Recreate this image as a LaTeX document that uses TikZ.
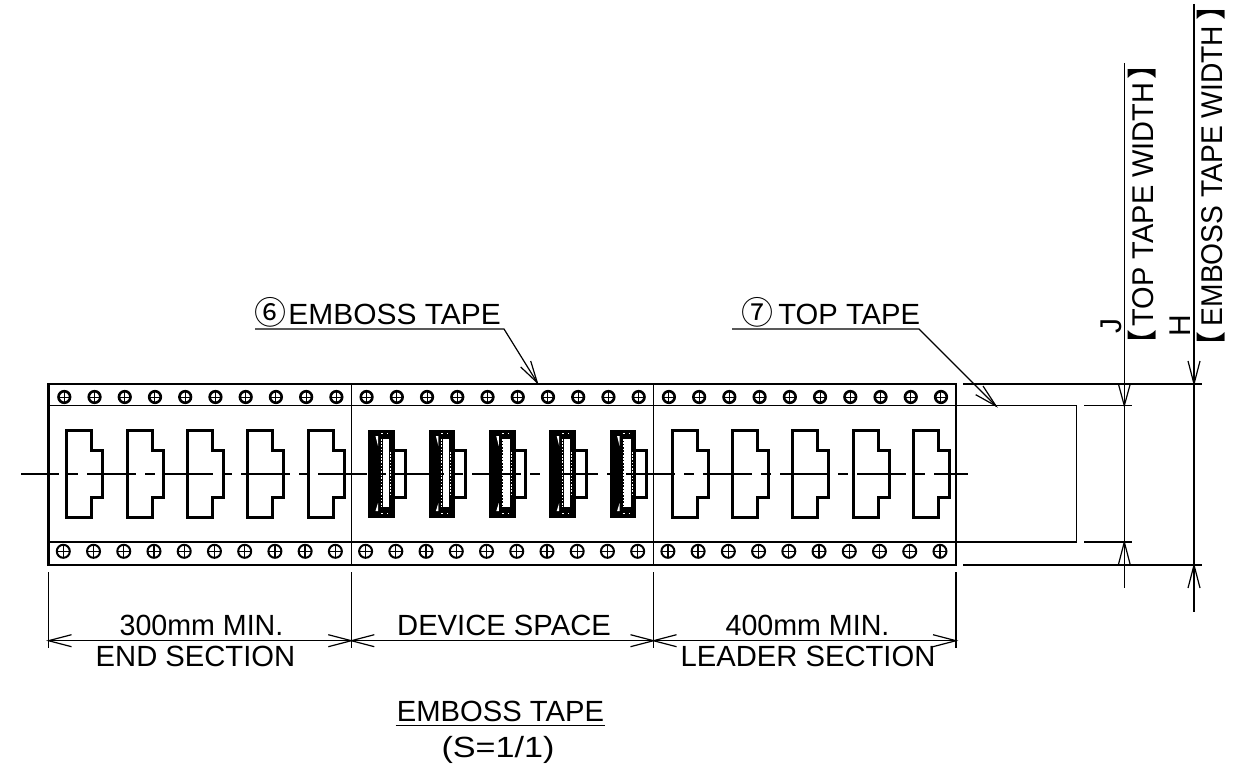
\documentclass[tikz,border=0pt]{standalone}
\usepackage{fontspec}
\setmainfont{Liberation Sans}
\newfontfamily\cjk{Noto Sans CJK JP}
\usetikzlibrary{calc}
\tikzset{
  thinline/.style={line width=0.6pt,black},
  thickline/.style={line width=1.5pt,black,line join=miter},
  holeline/.style={line width=1.3pt,black},
  crossline/.style={line width=0.5pt,black},
  lbl/.style={inner sep=0pt,anchor=base,font=\fontsize{14.6}{16}\selectfont},
  lblr/.style={inner sep=0pt,anchor=base,rotate=90,font=\fontsize{15}{16}\selectfont},
  centerline/.style={line width=0.6pt,black,dash pattern=on 24.5pt off 4.5pt on 5pt off 4.5pt,dash phase=5.5pt}
}
\newcommand{\pocketpath}[1]{(#1,430.7) -- (#1+25,430.7) -- (#1+25,450.3) -- (#1+36,450.3) -- (#1+36,497) -- (#1+25,497) -- (#1+25,517) -- (#1,517) -- cycle}
\newcommand{\opentip}[4]{% tip x,y ; dx,dy to base
  \draw[thinline] (#1-#3,#2+#4) -- (#1,#2) -- (#1+#3,#2+#4);}
\begin{document}
\begin{tikzpicture}[x=0.5pt,y=-0.5pt]
\useasboundingbox (0,0) rectangle (1240,764);
% holes
\foreach \i in {0,...,29}{
  \pgfmathsetmacro{\hx}{64.3+30.23*\i}
  \draw[holeline] (\hx,397) circle[radius=5.8];
  \draw[crossline] (\hx-5,397) -- (\hx+5,397) (\hx,392) -- (\hx,402);
  \pgfmathsetmacro{\hy}{63.3+30.23*\i}
  \draw[line width=1pt] (\hy,551.3) circle[radius=6.5];
  \draw[line width=0.65pt] (\hy-6,551.3) -- (\hy+6,551.3) (\hy,545.3) -- (\hy,557.3);
}
% empty pockets
\foreach \i in {0,...,4}{
  \pgfmathsetmacro{\pa}{66.7+60.4*\i}
  \draw[thickline] \pocketpath{\pa};
  \pgfmathsetmacro{\pc}{672+60.4*\i}
  \draw[thickline] \pocketpath{\pc};
}
% filled pockets
\foreach \i in {0,...,4}{
  \pgfmathsetmacro{\pb}{369+60.4*\i}
  \begin{scope}[shift={(\pb,0)}]
    \draw[thickline] (25,450.3) -- (36,450.3) -- (36,497) -- (25,497);
    \fill[black] (-0.8,429.8) rectangle (25.8,517.8);
    \fill[white] (13.5,439) rectangle (20,507);
    \fill[white] (6.5,436) -- (9,436) -- (9,446) -- cycle;
    \fill[white] (9,503) -- (9,511) -- (6.5,511) -- cycle;
    \draw[white,line width=0.5pt,dash pattern=on 0.8pt off 0.8pt] (12.5,439) -- (12.5,507);
    \draw[white,line width=0.5pt,dash pattern=on 0.8pt off 0.8pt] (21.5,452) -- (21.5,495);
    \draw[white,line width=0.5pt,dash pattern=on 1pt off 2pt] (12,433.5) -- (19,433.5) (12,513.5) -- (19,513.5);
  \end{scope}
}
% tape
\draw[thinline] (48.5,405.7) -- (1076.7,405.7) -- (1076.7,542) -- (48.5,542);
\draw[thinline] (351.3,384) -- (351.3,565) (653.5,384) -- (653.5,565);
\draw[line width=1.35pt] (48.5,384) rectangle (956,565);
% centre line
\coordinate (cl1) at (21,474);
\coordinate (cl2) at (968,474);
\draw[centerline] (cl1) -- (cl2);
% extension lines right
\draw[thinline] (963,384) -- (1201.7,384) (963,565) -- (1201.7,565);
\draw[thinline] (1084,405.7) -- (1132,405.7) (1084,542) -- (1132,542);
% vertical dims
\draw[thinline] (1124.3,63) -- (1124.3,587.7);
\draw[thinline] (1194,4) -- (1194,612);
\opentip{1124.3}{405.7}{6}{-22}
\opentip{1124.3}{542}{6}{23}
\opentip{1194}{384}{6}{-23}
\opentip{1194}{565}{6}{23}
% horizontal dims
\draw[thinline] (48.5,572) -- (48.5,648) (351.3,572) -- (351.3,648) (653.5,572) -- (653.5,648) (956,572) -- (956,648);
\draw[thinline] (48.5,640.7) -- (956,640.7);
\foreach \tx in {48.5,351.3,653.5}{
  \draw[thinline] (\tx+23,634.7) -- (\tx,640.7) -- (\tx+23,646.7);}
\foreach \tx in {351.3,653.5,956}{
  \draw[thinline] (\tx-23,634.7) -- (\tx,640.7) -- (\tx-23,646.7);}
% leaders
\coordinate (l6a) at (255,329); \coordinate (l6b) at (504,329); \coordinate (l6t) at (537.3,382.7);
\coordinate (l7a) at (732,329); \coordinate (l7b) at (919,329); \coordinate (l7t) at (996,406);
\draw[thinline] (l6a) -- (l6b) -- (l6t);
\draw[thinline] (520.7,367) -- (l6t) -- (530.7,361);
\draw[thinline] (l7a) -- (l7b) -- (l7t);
\draw[thinline] (975.7,394.7) -- (l7t) -- (983,386);
% labels
\node[lbl,anchor=base west] (n6) at (254,324) {{\cjk\fontsize{16}{18}\selectfont ⑥}\hspace{1pt}\scalebox{1.025}[1]{EMBOSS TAPE}};
\node[lbl,anchor=base west] (n7) at (741,324) {{\cjk\fontsize{16}{18}\selectfont ⑦}\hspace{2.5pt}TOP TAPE};
\node[lbl] (t300) at (201.5,635) {\scalebox{0.98}[1]{300mm MIN.}};
\node[lbl] (tend) at (195.5,666.7) {END SECTION};
\node[lbl] (tdev) at (504,635) {DEVICE SPACE};
\node[lbl] (t400) at (807.5,635) {\scalebox{0.98}[1]{400mm MIN.}};
\node[lbl] (tlead) at (808,666.7) {LEADER SECTION};
\node[lbl] (ttitle) at (500.5,721.7) {EMBOSS TAPE};
\draw[line width=0.8pt] (395.7,725.5) -- (605,725.5);
\node[lbl] (tscale) at (498,757.5) {\scalebox{1.17}[1]{(S=1/1)}};
\node[lblr] (tj) at (1121,326) {J};
\node[lblr] (th) at (1190,326) {H};
\node[lblr] (ttop) at (1153,204.5) {\kern-7pt{\cjk 【}\kern1.5pt\scalebox{0.965}[1]{TOP TAPE WIDTH}\kern1.5pt{\cjk 】}\kern-7pt};
\node[lblr] (temb) at (1222.7,176) {\kern-10pt{\cjk 【}\kern2.5pt\scalebox{0.94}[1]{EMBOSS TAPE WIDTH}\kern2.5pt{\cjk 】}\kern-10pt};
\end{tikzpicture}
\end{document}
